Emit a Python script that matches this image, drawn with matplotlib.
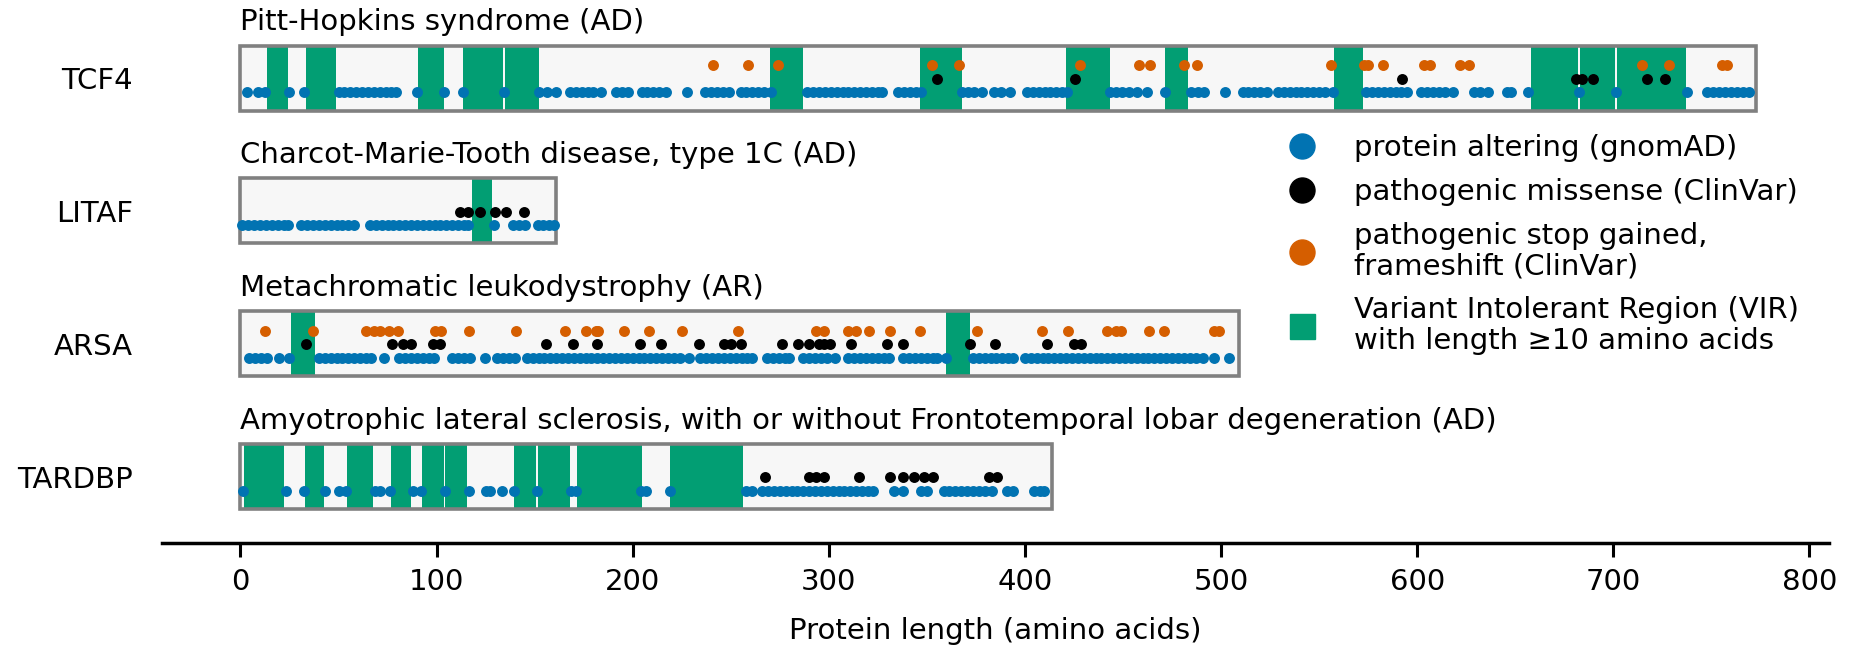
import matplotlib
matplotlib.use("Agg")
import matplotlib.pyplot as plt
from matplotlib.patches import Rectangle
from matplotlib.lines import Line2D

genes = ["TCF4", "LITAF", "ARSA", "TARDBP"]
diseases = ["Pitt-Hopkins syndrome (AD)",
            "Charcot-Marie-Tooth disease, type 1C (AD)",
            "Metachromatic leukodystrophy (AR)",
            "Amyotrophic lateral sclerosis, with or without Frontotemporal lobar degeneration (AD)"]
lengths = [773, 161, 509, 414]

# TCF4
tcf4_blue = [3.5, 9, 12.5, 25, 32.5,
             50, 53, 56, 59, 62, 65, 68, 71, 74, 77, 79.5,
             90, 104, 113.5, 134.5, 152, 156.5, 161,
             168, 171, 174, 177, 180, 184, 191.5, 194.5, 197.5,
             204.5, 207.5, 210.5, 213.5, 217, 227.5,
             237, 240, 243, 246, 249, 255, 258, 261, 264, 267, 270.5,
             289, 292, 295, 298, 301, 304, 307, 310, 313, 316, 319, 322, 325, 327,
             335.5, 338.5, 341.5, 344.5, 347,
             368, 371, 374, 378, 384, 388, 392.5,
             401, 404, 407, 410, 413, 416, 419, 421.5,
             443.5, 446.5, 449.5, 453, 457, 462, 471.5,
             484.5, 488, 491.5, 502,
             511, 514, 517, 520, 523.5,
             529, 532, 535, 538, 541, 544, 547, 550, 553, 557,
             574, 577, 580, 583, 586, 589, 592, 595,
             602, 605, 608, 611, 614, 618.5,
             629, 632, 636, 646, 648, 656.5, 682.5, 701.5, 737.5,
             748, 751, 754, 757, 760, 763, 766, 769]
tcf4_black = [355, 425.5, 592.5, 681, 684, 689.5, 717, 726.5]
tcf4_orange = [241, 259, 274, 352.5, 366.5, 428, 458, 464, 481, 487.5, 556, 573, 575,
               582.5, 603.5, 606.5, 622, 626.5, 714.5, 728.5, 755.5, 758]
tcf4_vir = [(13.5, 24.5), (33.5, 48.5), (90.5, 104), (113.5, 134), (135, 152),
            (270, 287), (346.5, 368), (421, 443.5), (471.5, 483), (557.5, 572.5),
            (658, 682), (683, 701), (702, 737)]

# LITAF
litaf_blue = [1, 4, 7, 10, 13, 16, 19, 22, 24,
              31, 34, 37, 40, 43, 46, 49, 52, 55, 58,
              66, 69, 72, 75, 78, 81, 84, 87, 90, 93, 96, 99, 102, 105, 108, 111, 114, 116,
              129.5, 139, 142, 145, 151.5, 154.5, 157.5, 160]
litaf_black = [111.8, 116, 121.9, 129.6, 135.5, 144.4]
litaf_orange = []
litaf_vir = [(118, 128.5)]

# ARSA
arsa_blue = [4.5, 7.5, 10.5, 13.5, 19.7, 25,
             40, 43, 46, 49, 52, 55, 58, 61, 64, 66.5, 73,
             81, 84, 87, 90, 93, 96, 98.5, 108, 111, 114, 117, 124.5,
             131, 134, 137, 140,
             146, 149, 152, 155, 158, 161, 164, 167, 170, 173, 176, 179, 182, 185, 188, 191,
             194, 197, 200, 203, 206, 209, 212, 215, 218, 221, 224, 228.5,
             234.5, 237.5, 240.5, 243.5, 246.5, 249.5, 252.5, 255.5, 258.5, 261,
             268.5, 271.5, 274.5, 277.5, 279.5,
             287, 290, 293, 296, 299, 303,
             310, 313, 316, 319, 322, 325, 328, 330.5,
             338, 341, 344, 347, 350, 353, 355, 359.7,
             373.5, 376.5, 379.5, 382.5, 385.5, 388.5, 391.5, 394,
             400, 403, 406, 409, 412, 415, 418, 421, 424, 427, 430, 433, 436, 439, 442, 445,
             448, 451, 454, 457, 460, 463, 466, 469, 472, 475, 478, 481, 484, 487, 491,
             496.5, 504]
arsa_black = [33.6, 77.5, 82.9, 86.8, 98.2, 101.9, 155.9, 169.5, 181.9, 203.5, 214.5,
              233.7, 246.8, 250.2, 255.3, 276, 284.5, 290.1, 295.2, 297.7, 300.8, 311.3,
              329.5, 337.7, 372, 384.7, 411.2, 425.1, 428.5]
arsa_orange = [12.4, 37, 64, 68, 71, 76, 80.4, 99, 102.4, 116.3, 140.6, 165.3, 176.3,
               181.4, 182.3, 195.5, 208.1, 225.2, 253.6, 293.5, 297.7, 309.6, 313.9,
               320.7, 331.4, 346.5, 375.4, 408.5, 422.2, 441.6, 446.4, 448.9, 463.4,
               470.7, 496.5, 499]
arsa_vir = [(25.6, 38.2), (359.7, 372)]

# TARDBP
tardbp_blue = [1.4, 23.1, 32.4, 43.3, 50.1, 54, 68.4, 71, 76.1, 88, 92.2, 104.1, 116.3,
               125.4, 127, 133.5, 139.3, 151.3, 168.3, 171.2, 204.3, 207, 218.8,
               257.8, 261, 266, 269, 272, 275, 278, 281, 284, 287, 290, 293, 296, 299,
               302, 305, 308, 311, 314, 317, 320, 322.5,
               333, 338, 347, 350, 358.5, 361.5, 364.5, 367.5, 370.5, 373.5, 376.5,
               379.5, 383, 391, 394, 404.5, 407.5, 409.5]
tardbp_black = [267.7, 289.8, 293.5, 297.7, 315.6, 331.4, 337.7, 343.3, 348.4, 353,
                381.8, 385.7]
tardbp_orange = []
tardbp_vir = [(1.9, 22.3), (32.8, 42.4), (54.5, 67.6), (76.6, 87.1), (92.6, 103.8),
              (104.3, 115.7), (139.5, 150.5), (151.7, 167.8), (171.6, 204.7),
              (218.8, 256.2)]

blue_sets = [tcf4_blue, litaf_blue, arsa_blue, tardbp_blue]
black_sets = [tcf4_black, litaf_black, arsa_black, tardbp_black]
orange_sets = [tcf4_orange, litaf_orange, arsa_orange, tardbp_orange]
vir_sets = [tcf4_vir, litaf_vir, arsa_vir, tardbp_vir]

c_blue = "#0173b2"
c_orange = "#d55e00"
c_green = "#029e73"
fs = 21

fig = plt.figure(figsize=(18.56, 6.45), dpi=100)
ax = fig.add_axes([162 / 1856, 1 - 543 / 645, (1829 - 162) / 1856, (543 - 5) / 645])

h = 0.49
for i, gene in enumerate(genes):
    ax.add_patch(Rectangle((0, i - h / 2), lengths[i], h, facecolor="#f7f7f7",
                           edgecolor="none", zorder=1))
    for start, end in vir_sets[i]:
        ax.add_patch(Rectangle((start, i - h / 2), end - start, h, facecolor=c_green,
                               edgecolor="none", zorder=2))
    ax.add_patch(Rectangle((0, i - h / 2), lengths[i], h, facecolor="none",
                           edgecolor="#808080", linewidth=2.6, zorder=3))
    ax.scatter(blue_sets[i], [i + 0.105] * len(blue_sets[i]), s=62, color=c_blue,
               linewidths=0, zorder=4)
    ax.scatter(black_sets[i], [i + 0.005] * len(black_sets[i]), s=62, color="black",
               linewidths=0, zorder=4)
    ax.scatter(orange_sets[i], [i - 0.095] * len(orange_sets[i]), s=62, color=c_orange,
               linewidths=0, zorder=4)
    ax.text(0, i - 0.42, diseases[i], fontsize=fs, ha="left", va="center")

ax.set_xlim(-40, 810)
ax.set_ylim(3.5, -0.55)
ax.set_yticks(range(len(genes)))
ax.set_yticklabels(genes, fontsize=fs)
ax.tick_params(axis="y", length=0, pad=21)
ax.set_xticks(range(0, 801, 100))
ax.tick_params(axis="x", labelsize=fs, length=10, width=2.2, pad=8)
ax.set_xlabel("Protein length (amino acids)", fontsize=fs, labelpad=15)
for side in ["top", "left", "right"]:
    ax.spines[side].set_visible(False)
ax.spines["bottom"].set_linewidth(2.5)

handles = [
    Line2D([], [], marker="o", linestyle="", color=c_blue, markersize=18),
    Line2D([], [], marker="o", linestyle="", color="black", markersize=18),
    Line2D([], [], marker="o", linestyle="", color=c_orange, markersize=18),
    Line2D([], [], marker="s", linestyle="", color=c_green, markersize=18),
]
labels = ["protein altering (gnomAD)", "pathogenic missense (ClinVar)",
          "pathogenic stop gained,\nframeshift (ClinVar)",
          "Variant Intolerant Region (VIR)\nwith length \u226510 amino acids"]
leg = fig.legend(handles, labels, loc="upper left", bbox_to_anchor=(1287 / 1856, 1 - 134 / 645),
                 frameon=False, fontsize=fs, handlelength=1.0, handletextpad=1.31,
                 labelspacing=0.55, borderaxespad=0, borderpad=0)
for t in leg.get_texts():
    t.set_linespacing(1.1)

fig.savefig("out.png", dpi=100)
